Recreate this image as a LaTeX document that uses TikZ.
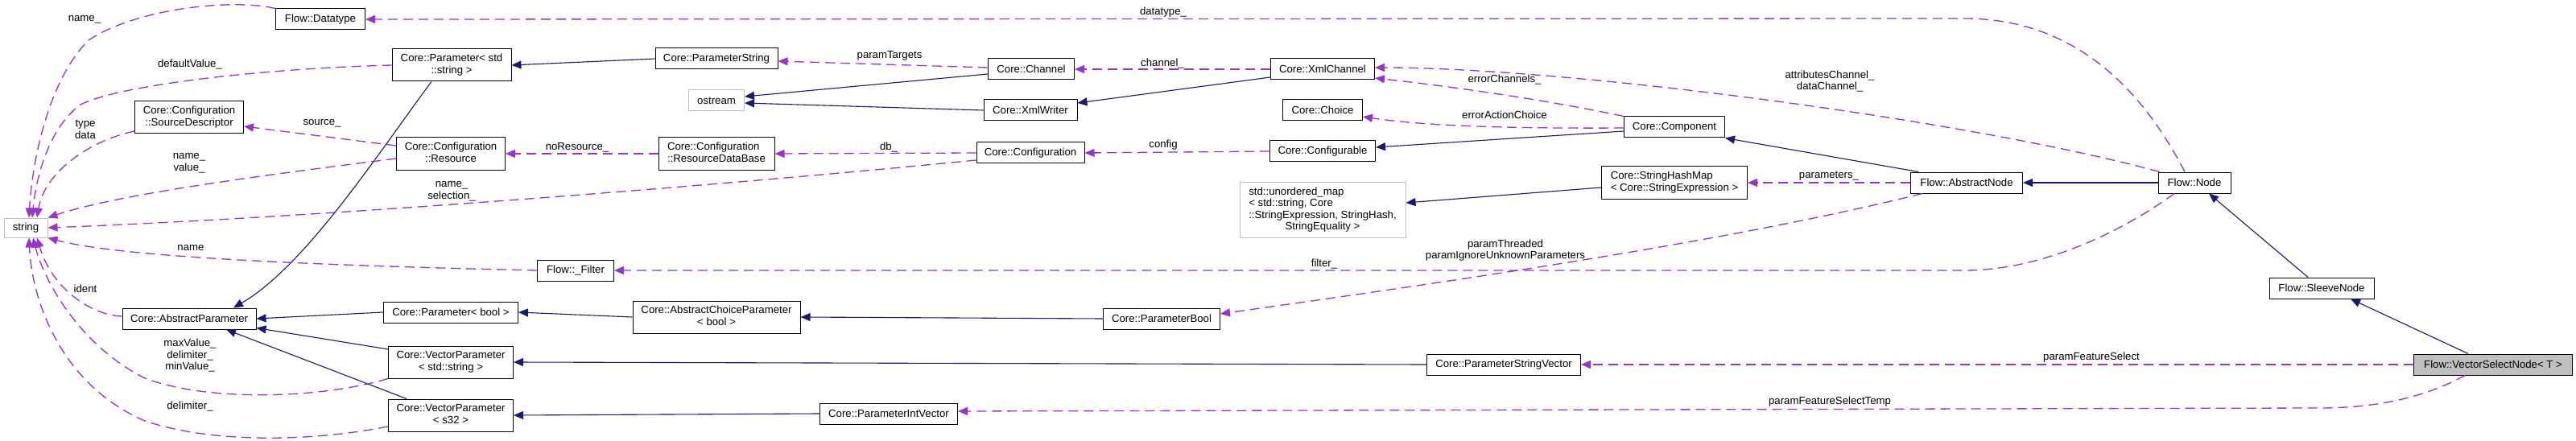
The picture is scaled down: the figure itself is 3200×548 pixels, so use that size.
\documentclass[tikz,border=0pt]{standalone}
\usepackage{fontspec}
\setmainfont{Liberation Sans}
\usetikzlibrary{arrows.meta}
\definecolor{edgeblue}{HTML}{191970}
\definecolor{edgepurple}{HTML}{9A32CD}
\definecolor{greyborder}{HTML}{BFBFBF}
\definecolor{selfill}{HTML}{BFBFBF}
\newcommand{\mlines}[1]{\begin{tabular}{@{}l@{}}#1\end{tabular}}
\newcommand{\lastline}[1]{\multicolumn{1}{@{}c@{}}{#1}}
\begin{document}
\begin{tikzpicture}[x=1pt,y=-1pt,
  box/.style={draw=black, line width=1pt, fill=white, inner sep=0pt, minimum height=26pt,
    font={\fontsize{13.2}{14.5}\selectfont}},
  extbox/.style={box, draw=greyborder},
  lbl/.style={inner sep=0pt, align=center, font={\fontsize{13.2}{14.5}\selectfont}},
  inh/.style={draw=edgeblue, line width=1.1pt, -{Triangle[length=12pt,width=10pt]}},
  use/.style={draw=edgepurple, line width=1.3pt, dash pattern=on 12pt off 7pt, -{Triangle[length=12pt,width=10pt]}}
]
\fill[white] (0,0) rectangle (3200,548);
\useasboundingbox (0,0) rectangle (3200,548);

% nodes
\node[box, minimum width=111pt] (dt) at (398,24) {Flow::Datatype};
\node[box, minimum width=148pt, minimum height=40pt] (pstr) at (561,81) {\mlines{Core::Parameter< std\\\lastline{::string >}}};
\node[box, minimum width=135pt, minimum height=40pt] (sd) at (235,146) {\mlines{Core::Configuration\\\lastline{::SourceDescriptor}}};
\node[box, minimum width=135pt, minimum height=40pt] (res) at (560,191) {\mlines{Core::Configuration\\\lastline{::Resource}}};
\node[extbox, minimum width=54pt, minimum height=24pt] (str) at (32,283) {string};
\node[box, minimum width=152pt] (ps) at (890,73) {Core::ParameterString};
\node[box, minimum width=107pt] (ch) at (1281,86) {Core::Channel};
\node[extbox, minimum width=69pt] (os) at (890,125) {ostream};
\node[box, minimum width=116pt] (xw) at (1280,137) {Core::XmlWriter};
\node[box, minimum width=144pt, minimum height=40pt] (rdb) at (890,191) {\mlines{Core::Configuration\\\lastline{::ResourceDataBase}}};
\node[box, minimum width=134pt] (conf) at (1280,190) {Core::Configuration};
\node[box, minimum width=129pt] (xc) at (1643,86) {Core::XmlChannel};
\node[box, minimum width=99pt] (cho) at (1643,137) {Core::Choice};
\node[box, minimum width=131pt] (cfg) at (1643,188) {Core::Configurable};
\node[box, minimum width=125pt] (comp) at (2080,158) {Core::Component};
\node[box, minimum width=181pt, minimum height=40pt] (shm) at (2080,227) {\mlines{Core::StringHashMap\\\lastline{< Core::StringExpression >}}};
\node[extbox, minimum width=206pt, minimum height=69pt] (umap) at (1643,261) {\mlines{std::unordered\_map\\< std::string, Core\\::StringExpression, StringHash,\\\lastline{StringEquality >}}};
\node[box, minimum width=139pt] (an) at (2443,227) {Flow::AbstractNode};
\node[box, minimum width=90pt] (fn) at (2726,227) {Flow::Node};
\node[box, minimum width=130pt] (sn) at (2884,358) {Flow::SleeveNode};
\node[box, fill=selfill, minimum width=197pt] (vsn) at (3097,453) {Flow::VectorSelectNode< T >};
\node[box, minimum width=95pt] (filt) at (715,336) {Flow::\_Filter};
\node[box, minimum width=166pt] (ap) at (235,396) {Core::AbstractParameter};
\node[box, minimum width=167pt] (pb) at (560,388) {Core::Parameter< bool >};
\node[box, minimum width=208pt, minimum height=40pt] (acp) at (890,394) {\mlines{Core::AbstractChoiceParameter\\\lastline{< bool >}}};
\node[box, minimum width=145pt] (pbool) at (1443,396) {Core::ParameterBool};
\node[box, minimum width=155pt, minimum height=40pt] (vps) at (560,450) {\mlines{Core::VectorParameter\\\lastline{< std::string >}}};
\node[box, minimum width=155pt, minimum height=40pt] (vp32) at (560,516) {\mlines{Core::VectorParameter\\\lastline{< s32 >}}};
\node[box, minimum width=191pt] (psv) at (1868,453) {Core::ParameterStringVector};
\node[box, minimum width=171pt] (piv) at (1104,514) {Core::ParameterIntVector};

% inheritance edges
\draw[inh] ([xshift=-25pt]pstr.south) .. controls (470,190) and (380,330) .. ([xshift=55pt]ap.north);
\draw[inh] (ps.west) -- (pstr.east);
\draw[inh] ([yshift=-6pt]ch.west) -- ([yshift=5pt]os.east);
\draw[inh] (xw.west) -- ([yshift=-3pt]os.east);
\draw[inh] ([yshift=-10pt]xc.west) -- ([yshift=9pt]xw.east);
\draw[inh] ([yshift=-5pt]comp.west) -- ([yshift=5pt]cfg.east);
\draw[inh] ([xshift=10pt]an.north west) -- (comp.south east);
\draw[inh] ([yshift=-6pt]shm.west) -- ([yshift=9pt]umap.east);
\draw[inh] (fn.west) -- (an.east);
\draw[inh] ([xshift=-17pt]sn.north) -- ([xshift=18pt]fn.south);
\draw[inh] ([xshift=-31pt]vsn.north) -- ([xshift=36pt]sn.south);
\draw[inh] (pb.west) -- (ap.east);
\draw[inh] ([yshift=16pt]vps.west) -- ([yshift=2pt]ap.south east);
\draw[inh] ([xshift=-55pt]vp32.north) -- ([xshift=46pt]ap.south);
\draw[inh] (acp.west) -- (pb.east);
\draw[inh] (pbool.west) -- (acp.east);
\draw[inh] (psv.west) -- (vps.east);
\draw[inh] (piv.west) -- (vp32.east);

% usage edges
\draw[use] (dt.north west) .. controls (290,-2) and (170,10) .. (110,50) .. controls (60,100) and (40,200) .. ([xshift=4pt]str.north);
\draw[use] (pstr.west) .. controls (330,85) and (150,105) .. (100,130) .. controls (60,160) and (45,220) .. ([xshift=8pt]str.north);
\draw[use] ([yshift=-17pt]sd.west) .. controls (110,175) and (55,215) .. ([xshift=14pt]str.north);
\draw[use] ([yshift=10pt]res.west) -- ([yshift=-11pt]sd.east);
\draw[use] ([yshift=-6pt]res.west) .. controls (350,215) and (150,240) .. (str.north east);
\draw[use] (rdb.west) -- (res.east);
\draw[use] (conf.west) -- (rdb.east);
\draw[use] ([yshift=-9pt]conf.west) .. controls (900,230) and (400,270) .. (str.east);
\draw[use] (cfg.west) -- (conf.east);
\draw[use] ([yshift=2pt]ch.west) -- ([yshift=-3pt]ps.east);
\draw[use] (xc.west) -- (ch.east);
\draw[use] (comp.north west) .. controls (1900,120) and (1780,105) .. ([yshift=-11pt]xc.east);
\draw[use] ([yshift=-1pt]comp.west) .. controls (1850,160) and (1760,155) .. ([yshift=-8pt]cho.east);
\draw[use] (an.west) -- (shm.east);
\draw[use] ([xshift=2pt]fn.north west) .. controls (2450,150) and (1950,84) .. ([yshift=2pt]xc.east);
\draw[use] ([xshift=-12pt]fn.north) .. controls (2650,90) and (2560,23) .. (2440,23) -- (dt.east);
\draw[use] ([xshift=-25pt]fn.south) .. controls (2640,285) and (2540,336) .. (2440,336) -- (filt.east);
\draw[use] ([xshift=-55pt]an.south) .. controls (2150,300) and (1800,350) .. ([yshift=6pt]pbool.east);
\draw[use] (vsn.west) -- (psv.east);
\draw[use] ([xshift=-35pt]vsn.south) .. controls (3010,495) and (2950,507) .. (2880,507) -- ([yshift=3pt]piv.east);
\draw[use] (filt.west) .. controls (400,330) and (150,320) .. (str.south east);
\draw[use] ([yshift=3pt]ap.west) .. controls (115,392) and (65,360) .. ([xshift=14pt]str.south);
\draw[use] (vps.south west) .. controls (400,495) and (260,500) .. (180,470) .. controls (100,430) and (55,350) .. ([xshift=9pt]str.south);
\draw[use] ([yshift=-14pt]vp32.west) .. controls (380,550) and (260,550) .. (180,523) .. controls (80,480) and (40,380) .. ([xshift=4pt]str.south);

% labels
\node[lbl] (l1) at (105,24) {name\_};
\node[lbl] (l2) at (236,80) {defaultValue\_};
\node[lbl] (l3) at (106,161) {type\\data};
\node[lbl] (l4) at (400,153) {source\_};
\node[lbl] (l5) at (235,203) {name\_\\value\_};
\node[lbl] (l6) at (717,183) {noResource\_};
\node[lbl] (l7) at (561,238) {name\_\\selection\_};
\node[lbl] (l8) at (237,308) {name};
\node[lbl] (l9) at (106,359) {ident};
\node[lbl] (l10) at (236,442) {maxValue\_\\delimiter\_\\minValue\_};
\node[lbl] (l11) at (236,505) {delimiter\_};
\node[lbl] (l12) at (1445,15) {datatype\_};
\node[lbl] (l13) at (1105,69) {paramTargets};
\node[lbl] (l14) at (1444,79) {channel\_};
\node[lbl] (l15) at (1104,183) {db\_};
\node[lbl] (l16) at (1445,180) {config};
\node[lbl] (l17) at (1869,99) {errorChannels\_};
\node[lbl] (l18) at (1869,143) {errorActionChoice};
\node[lbl] (l19) at (2273,101) {attributesChannel\_\\dataChannel\_};
\node[lbl] (l20) at (2272,219) {parameters\_};
\node[lbl] (l21) at (1645,328) {filter\_};
\node[lbl] (l22) at (1870,311) {paramThreaded\\paramIgnoreUnknownParameters};
\node[lbl] (l23) at (2598,444) {paramFeatureSelect};
\node[lbl] (l24) at (2273,499) {paramFeatureSelectTemp};
\end{tikzpicture}
\end{document}
